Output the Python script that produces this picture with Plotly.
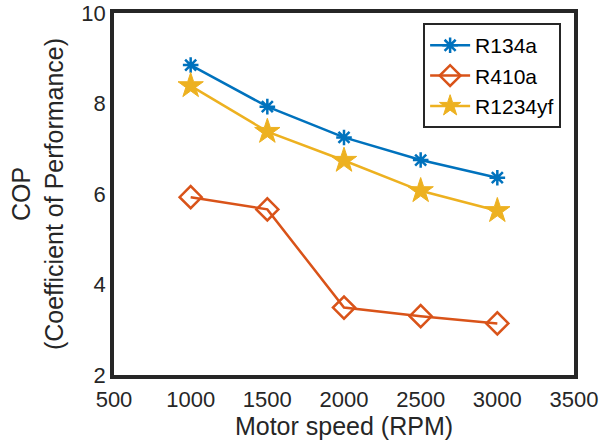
import plotly.graph_objects as go

speed = [1000, 1500, 2000, 2500, 3000]
cop_r134a = [8.85, 7.93, 7.25, 6.75, 6.36]
cop_r410a = [5.93, 5.66, 3.49, 3.30, 3.14]
cop_r1234yf = [8.39, 7.38, 6.74, 6.07, 5.63]
x_ticks = [500, 1000, 1500, 2000, 2500, 3000, 3500]
y_ticks = [2, 4, 6, 8, 10]

FONT = "Liberation Sans, Arial, sans-serif"
DARK = "#262626"

fig = go.Figure()
fig.add_trace(go.Scatter(
    x=speed, y=cop_r134a, name="R134a", mode="lines+markers",
    line=dict(color="#0072BD", width=2.5),
    marker=dict(symbol="asterisk-open", size=13, color="#0072BD",
                line=dict(color="#0072BD", width=2.5)),
))
fig.add_trace(go.Scatter(
    x=speed, y=cop_r410a, name="R410a", mode="lines+markers",
    line=dict(color="#D95319", width=2.5),
    marker=dict(symbol="diamond-open", size=17, color="#D95319",
                line=dict(color="#D95319", width=2.5)),
))
fig.add_trace(go.Scatter(
    x=speed, y=cop_r1234yf, name="R1234yf", mode="lines+markers",
    line=dict(color="#EDB120", width=2.5),
    marker=dict(symbol="star", size=19, color="#EDB120",
                line=dict(color="#EDB120", width=1)),
))

fig.update_layout(
    width=608, height=448,
    margin=dict(l=114, r=34, t=13, b=73, autoexpand=False),
    paper_bgcolor="white", plot_bgcolor="white",
    font=dict(family=FONT, size=22, color=DARK),
    showlegend=True,
    legend=dict(
        x=0.672, y=0.972, xanchor="left", yanchor="top",
        bgcolor="white", bordercolor=DARK, borderwidth=2,
        font=dict(family=FONT, size=21, color="black"),
        itemwidth=40, tracegroupgap=0,
    ),
)
fig.update_xaxes(
    range=[500, 3500], tickvals=x_ticks, ticktext=[str(v) for v in x_ticks],
    showgrid=False, zeroline=False, showline=True, mirror=True,
    linewidth=3.5, linecolor=DARK, ticks="", automargin=False,
    ticklabelstandoff=2,
    tickfont=dict(family=FONT, size=22, color=DARK),
    title=dict(text="Motor speed (RPM)", font=dict(family=FONT, size=25, color=DARK), standoff=2),
)
fig.update_yaxes(
    range=[2, 10], tickvals=y_ticks, ticktext=[str(v) for v in y_ticks],
    showgrid=False, zeroline=False, showline=True, mirror=True,
    linewidth=3.5, linecolor=DARK, ticks="", automargin=False,
    tickfont=dict(family=FONT, size=22, color=DARK),
    title=dict(text="COP<br>(Coefficient of Performance)", font=dict(family=FONT, size=25, color=DARK), standoff=12),
)

fig.write_html("out.html", config={"displayModeBar": False},
               post_script="document.body.style.margin='0';")
